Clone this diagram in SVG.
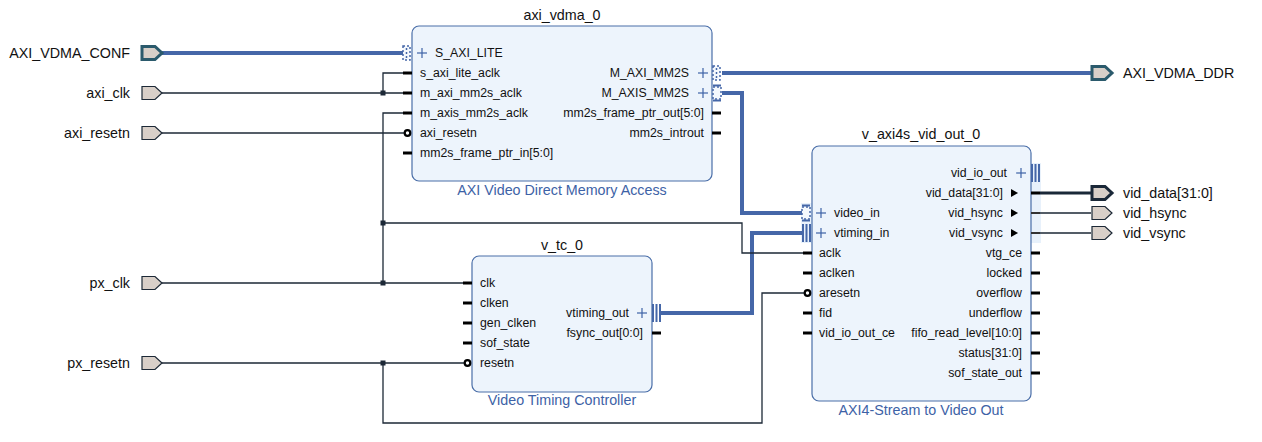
<svg xmlns="http://www.w3.org/2000/svg" xmlns:xlink="http://www.w3.org/1999/xlink" width="1262" height="442" viewBox="0 0 1262 442">
<defs>
<style>
text{font-family:"Liberation Sans",Arial,sans-serif;fill:#111;}
.pin{font-size:12.3px;}
.title{font-size:14.3px;text-anchor:middle;}
.sub{font-size:14.3px;text-anchor:middle;fill:#3d62a6;}
.ext{font-size:14.3px;}
.r{text-anchor:end;}
.box{fill:#edf4fc;stroke:#4a6ea8;stroke-width:1.2;}
.stub{stroke:#000;stroke-width:3;}
.wire{fill:none;stroke:#1c2836;stroke-width:1.3;}
.bus{fill:none;stroke:#4567a8;stroke-width:4;}
.plus{stroke:#3d62a6;stroke-width:1.2;}
.port{fill:#d8cfc8;stroke:#1c2836;stroke-width:1.2;}
.portb{fill:#d8cfc8;stroke:#2b5a6c;stroke-width:3;}
.portd{fill:#d8cfc8;stroke:#1a2838;stroke-width:3;}
.bub{fill:#fff;stroke:#000;stroke-width:2.2;}
.dot{fill:#1c2836;}
.hl{fill:#e8f1fb;}
</style>
<path id="portshape" d="M0,-6.5 H13 L20,0 L13,6.5 H0 Z"/>
<g id="plus"><line class="plus" x1="-5" y1="0" x2="5" y2="0"/><line class="plus" x1="0" y1="-5" x2="0" y2="5"/></g>
<g id="mm"><rect x="0" y="-7" width="7" height="14" fill="#f4f8fd" stroke="#4567a8" stroke-width="1.5" stroke-dasharray="2 2"/><line x1="3.5" y1="-5" x2="3.5" y2="5" stroke="#4567a8" stroke-width="1.5" stroke-dasharray="2 2"/></g>
<g id="st"><rect x="0" y="-6" width="8" height="12" fill="#f4f8fd" stroke="#4567a8" stroke-width="1.5" stroke-dasharray="2 2"/><line x1="0" y1="-7.5" x2="8" y2="-7.5" stroke="#4567a8" stroke-width="2"/><line x1="0" y1="7.5" x2="8" y2="7.5" stroke="#4567a8" stroke-width="2"/></g>
<g id="vt"><line x1="1" y1="-9" x2="1" y2="9" stroke="#4567a8" stroke-width="2"/><line x1="4.5" y1="-9" x2="4.5" y2="9" stroke="#4567a8" stroke-width="2"/><line x1="8" y1="-9" x2="8" y2="9" stroke="#4567a8" stroke-width="2"/></g>
<path id="tri" d="M0,-4 L7,0 L0,4 Z" fill="#000"/>
</defs>
<rect width="1262" height="442" fill="#fff"/>

<!-- highlight strips -->
<rect class="hl" x="1031" y="163" width="10" height="80"/>
<rect class="hl" x="801" y="203" width="11" height="40"/>

<!-- connectors -->
<g id="connectors">
<path class="bus" d="M162,53 H403"/>
<path class="bus" d="M722,73 H1091"/>
<path class="bus" d="M722,93 H742 V213 H802"/>
<path class="bus" d="M661,313 H752 V233 H802"/>
<path class="wire" d="M162,93 H403 M383,93 V73 H403"/>
<path class="wire" d="M162,133 H404"/>
<path class="wire" d="M162,283 H463 M383,283 V113 H403 M383,223 H742 V253 H803"/>
<path class="wire" d="M162,363 H464 M383,363 V423 H762 V293 H805"/>
<path d="M1040,193 H1091" stroke="#1a2838" stroke-width="3"/>
<path class="wire" d="M1040,213 H1091 M1040,233 H1091"/>
<rect class="dot" x="380.5" y="90.5" width="5" height="5"/>
<rect class="dot" x="380.5" y="220.5" width="5" height="5"/>
<rect class="dot" x="380.5" y="280.5" width="5" height="5"/>
<rect class="dot" x="380.5" y="360.5" width="5" height="5"/>
</g>

<!-- external ports -->
<g id="AXI_VDMA_CONF"><use href="#portshape" class="portb" x="142" y="53"/><text class="ext r" x="130" y="58">AXI_VDMA_CONF</text></g>
<g id="axi_clk"><use href="#portshape" class="port" x="142" y="93"/><text class="ext r" x="130" y="98">axi_clk</text></g>
<g id="axi_resetn"><use href="#portshape" class="port" x="142" y="133"/><text class="ext r" x="130" y="138">axi_resetn</text></g>
<g id="px_clk"><use href="#portshape" class="port" x="142" y="283"/><text class="ext r" x="130" y="288">px_clk</text></g>
<g id="px_resetn"><use href="#portshape" class="port" x="142" y="363"/><text class="ext r" x="130" y="368">px_resetn</text></g>
<g id="AXI_VDMA_DDR"><use href="#portshape" class="portb" x="1092" y="73"/><text class="ext" x="1123" y="78">AXI_VDMA_DDR</text></g>
<g id="vid_data"><use href="#portshape" class="portd" x="1092" y="193"/><text class="ext" x="1123" y="198">vid_data[31:0]</text></g>
<g id="vid_hsync"><use href="#portshape" class="port" x="1092" y="213"/><text class="ext" x="1123" y="218">vid_hsync</text></g>
<g id="vid_vsync"><use href="#portshape" class="port" x="1092" y="233"/><text class="ext" x="1123" y="238">vid_vsync</text></g>

<!-- axi_vdma_0 -->
<g id="axi_vdma_0">
<text class="title" x="562" y="20">axi_vdma_0</text>
<rect class="box" x="412" y="26" width="300" height="155" rx="7"/>
<text class="sub" x="562" y="195">AXI Video Direct Memory Access</text>
<use href="#mm" x="403" y="53"/>
<use href="#plus" x="422" y="53"/>
<text class="pin" x="435" y="57">S_AXI_LITE</text>
<line class="stub" x1="403" y1="73" x2="412" y2="73"/>
<line class="stub" x1="403" y1="93" x2="412" y2="93"/>
<line class="stub" x1="403" y1="113" x2="412" y2="113"/>
<circle class="bub" cx="407.5" cy="133" r="2.8"/>
<line class="stub" x1="403" y1="153" x2="412" y2="153"/>
<text class="pin" x="420" y="77">s_axi_lite_aclk</text>
<text class="pin" x="420" y="97">m_axi_mm2s_aclk</text>
<text class="pin" x="420" y="117">m_axis_mm2s_aclk</text>
<text class="pin" x="420" y="137">axi_resetn</text>
<text class="pin" x="420" y="157">mm2s_frame_ptr_in[5:0]</text>
<text class="pin r" x="689" y="77">M_AXI_MM2S</text>
<use href="#plus" x="703" y="73"/>
<use href="#mm" x="713" y="73"/>
<text class="pin r" x="689" y="97">M_AXIS_MM2S</text>
<use href="#plus" x="703" y="93"/>
<use href="#st" x="713" y="93"/>
<text class="pin r" x="704" y="117">mm2s_frame_ptr_out[5:0]</text>
<line class="stub" x1="712" y1="113" x2="721" y2="113"/>
<text class="pin r" x="704" y="137">mm2s_introut</text>
<line class="stub" x1="712" y1="133" x2="721" y2="133"/>
</g>

<!-- v_tc_0 -->
<g id="v_tc_0">
<text class="title" x="562" y="250">v_tc_0</text>
<rect class="box" x="472" y="256" width="180" height="136" rx="7"/>
<text class="sub" x="562" y="405">Video Timing Controller</text>
<line class="stub" x1="463" y1="283" x2="472" y2="283"/>
<line class="stub" x1="463" y1="303" x2="472" y2="303"/>
<line class="stub" x1="463" y1="323" x2="472" y2="323"/>
<line class="stub" x1="463" y1="343" x2="472" y2="343"/>
<circle class="bub" cx="467.5" cy="363" r="2.8"/>
<text class="pin" x="480" y="287">clk</text>
<text class="pin" x="480" y="307">clken</text>
<text class="pin" x="480" y="327">gen_clken</text>
<text class="pin" x="480" y="347">sof_state</text>
<text class="pin" x="480" y="367">resetn</text>
<text class="pin r" x="629" y="317">vtiming_out</text>
<use href="#plus" x="642" y="313"/>
<use href="#vt" x="652" y="313"/>
<text class="pin r" x="643" y="337">fsync_out[0:0]</text>
<line class="stub" x1="652" y1="333" x2="661" y2="333"/>
</g>

<!-- v_axi4s_vid_out_0 -->
<g id="v_axi4s_vid_out_0">
<text class="title" x="921" y="139">v_axi4s_vid_out_0</text>
<rect class="box" x="812" y="146" width="219" height="255" rx="7"/>
<text class="sub" x="921" y="415">AXI4-Stream to Video Out</text>
<use href="#st" x="802" y="213"/>
<use href="#plus" x="821" y="213"/>
<text class="pin" x="834" y="217">video_in</text>
<use href="#vt" x="802" y="233"/>
<use href="#plus" x="821" y="233"/>
<text class="pin" x="834" y="237">vtiming_in</text>
<line class="stub" x1="803" y1="253" x2="812" y2="253"/>
<line class="stub" x1="803" y1="273" x2="812" y2="273"/>
<circle class="bub" cx="807.5" cy="293" r="2.8"/>
<line class="stub" x1="803" y1="313" x2="812" y2="313"/>
<line class="stub" x1="803" y1="333" x2="812" y2="333"/>
<text class="pin" x="819" y="257">aclk</text>
<text class="pin" x="819" y="277">aclken</text>
<text class="pin" x="819" y="297">aresetn</text>
<text class="pin" x="819" y="317">fid</text>
<text class="pin" x="819" y="337">vid_io_out_ce</text>
<text class="pin r" x="1007" y="177">vid_io_out</text>
<use href="#plus" x="1021" y="173"/>
<use href="#vt" x="1031" y="173"/>
<text class="pin r" x="1003" y="197">vid_data[31:0]</text>
<use href="#tri" x="1011" y="193"/>
<line class="stub" x1="1031" y1="193" x2="1040" y2="193"/>
<text class="pin r" x="1003" y="217">vid_hsync</text>
<use href="#tri" x="1011" y="213"/>
<line x1="1031" y1="213" x2="1040" y2="213" stroke="#333" stroke-width="2"/>
<text class="pin r" x="1003" y="237">vid_vsync</text>
<use href="#tri" x="1011" y="233"/>
<line x1="1031" y1="233" x2="1040" y2="233" stroke="#333" stroke-width="2"/>
<text class="pin r" x="1022" y="257">vtg_ce</text>
<text class="pin r" x="1022" y="277">locked</text>
<text class="pin r" x="1022" y="297">overflow</text>
<text class="pin r" x="1022" y="317">underflow</text>
<text class="pin r" x="1022" y="337">fifo_read_level[10:0]</text>
<text class="pin r" x="1022" y="357">status[31:0]</text>
<text class="pin r" x="1022" y="377">sof_state_out</text>
<line class="stub" x1="1031" y1="253" x2="1040" y2="253"/>
<line class="stub" x1="1031" y1="273" x2="1040" y2="273"/>
<line class="stub" x1="1031" y1="293" x2="1040" y2="293"/>
<line class="stub" x1="1031" y1="313" x2="1040" y2="313"/>
<line class="stub" x1="1031" y1="333" x2="1040" y2="333"/>
<line class="stub" x1="1031" y1="353" x2="1040" y2="353"/>
<line class="stub" x1="1031" y1="373" x2="1040" y2="373"/>
</g>
</svg>
